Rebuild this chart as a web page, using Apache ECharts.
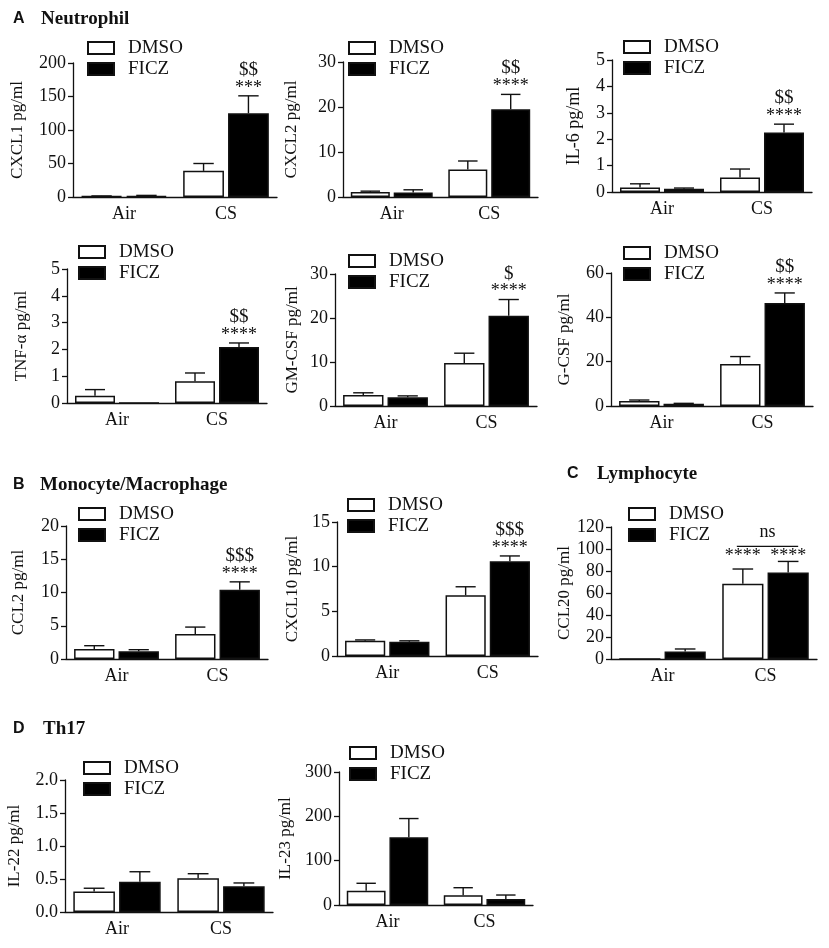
<!DOCTYPE html>
<html><head><meta charset="utf-8">
<script src="https://cdn.jsdelivr.net/npm/echarts@6/dist/echarts.min.js"></script>
<style>html,body{margin:0;padding:0;background:#fff}#c{width:829px;height:948px}</style>
</head><body><div id="c"></div>
<script>
// ---------- data ----------
const categories = ['Air', 'CS'];
const groups = ['DMSO', 'FICZ'];

// A  Neutrophil
const cxcl1Dmso = [1.2, 39],   cxcl1DmsoErr = [0.4, 11],  cxcl1Ficz = [1.8, 125],  cxcl1FiczErr = [0.6, 26];
const cxcl2Dmso = [1.1, 6.1],  cxcl2DmsoErr = [0.2, 1.9], cxcl2Ficz = [1.0, 19.5], cxcl2FiczErr = [0.6, 3.3];
const il6Dmso   = [0.17, 0.55], il6DmsoErr  = [0.14, 0.32], il6Ficz = [0.12, 2.25], il6FiczErr = [0.03, 0.32];
const tnfDmso   = [0.27, 0.81], tnfDmsoErr  = [0.23, 0.31], tnfFicz = [0, 2.09],    tnfFiczErr = [null, 0.15];
const gmcsfDmso = [2.5, 9.8],  gmcsfDmsoErr = [0.5, 2.2], gmcsfFicz = [2.0, 20.5], gmcsfFiczErr = [0.3, 3.7];
const gcsfDmso  = [2.3, 19.0], gcsfDmsoErr  = [0.4, 3.3], gcsfFicz  = [1.0, 46.5], gcsfFiczErr  = [0.2, 4.5];
// B  Monocyte/Macrophage
const ccl2Dmso   = [1.5, 3.75], ccl2DmsoErr   = [0.5, 1.05], ccl2Ficz   = [1.15, 10.4], ccl2FiczErr   = [0.25, 1.2];
const cxcl10Dmso = [1.7, 6.8],  cxcl10DmsoErr = [0.1, 0.95], cxcl10Ficz = [1.6, 10.6],  cxcl10FiczErr = [0.1, 0.6];
// C  Lymphocyte
const ccl20Dmso = [0, 68.5], ccl20DmsoErr = [null, 13.3], ccl20Ficz = [6.9, 78.7], ccl20FiczErr = [2.2, 10];
// D  Th17
const il22Dmso = [0.31, 0.51], il22DmsoErr = [0.05, 0.07], il22Ficz = [0.46, 0.39], il22FiczErr = [0.15, 0.05];
const il23Dmso = [32, 22],     il23DmsoErr = [17, 17],     il23Ficz = [153, 13.5],  il23FiczErr = [42, 9];

// significance marks above FICZ / CS  [upper, lower]
const cxcl1Sig = ['$$', '***'];
const cxcl2Sig = ['$$', '****'];
const il6Sig   = ['$$', '****'];
const tnfSig   = ['$$', '****'];
const gmcsfSig = ['$', '****'];
const gcsfSig  = ['$$', '****'];
const ccl2Sig  = ['$$$', '****'];
const cxcl10Sig = ['$$$', '****'];
const ccl20Stars = ['****', '****'];
const ccl20Between = 'ns';

// y-axis ranges
const yMax  = [200, 30, 5, 5, 30, 60, 20, 15, 120, 2, 300];
const yStep = [50, 10, 1, 1, 10, 20, 5, 5, 20, 0.5, 100];
const yNames = ['CXCL1 pg/ml', 'CXCL2 pg/ml', 'IL-6 pg/ml', 'TNF-α pg/ml', 'GM-CSF pg/ml', 'G-CSF pg/ml',
                'CCL2 pg/ml', 'CXCL10 pg/ml', 'CCL20 pg/ml', 'IL-22 pg/ml', 'IL-23 pg/ml'];

// ---------- layout ----------
const panels = [
  {d: cxcl1Dmso, de: cxcl1DmsoErr, f: cxcl1Ficz, fe: cxcl1FiczErr, sig: cxcl1Sig, box: [73, 63, 204, 134], leg: [87, 38], gap: 47, nf: 17},
  {d: cxcl2Dmso, de: cxcl2DmsoErr, f: cxcl2Ficz, fe: cxcl2FiczErr, sig: cxcl2Sig, box: [343, 62, 195, 135], leg: [348, 38], gap: 42.5, nf: 17},
  {d: il6Dmso, de: il6DmsoErr, f: il6Ficz, fe: il6FiczErr, sig: il6Sig, box: [612, 60, 200, 132], leg: [623, 37], gap: 29, nf: 18},
  {d: tnfDmso, de: tnfDmsoErr, f: tnfFicz, fe: tnfFiczErr, sig: tnfSig, box: [67, 269, 200, 134], leg: [78, 242], gap: 37, nf: 17},
  {d: gmcsfDmso, de: gmcsfDmsoErr, f: gmcsfFicz, fe: gmcsfFiczErr, sig: gmcsfSig, box: [335, 274, 202, 132], leg: [348, 251], gap: 34, nf: 17},
  {d: gcsfDmso, de: gcsfDmsoErr, f: gcsfFicz, fe: gcsfFiczErr, sig: gcsfSig, box: [611, 273, 202, 133], leg: [623, 243], gap: 37.5, nf: 17},
  {d: ccl2Dmso, de: ccl2DmsoErr, f: ccl2Ficz, fe: ccl2FiczErr, sig: ccl2Sig, box: [66, 526, 202, 133], leg: [78, 504], gap: 39, nf: 17},
  {d: cxcl10Dmso, de: cxcl10DmsoErr, f: cxcl10Ficz, fe: cxcl10FiczErr, sig: cxcl10Sig, box: [337, 522, 201, 134], leg: [347, 495], gap: 36, nf: 17},
  {d: ccl20Dmso, de: ccl20DmsoErr, f: ccl20Ficz, fe: ccl20FiczErr, stars: ccl20Stars, between: ccl20Between, box: [611, 527, 206, 132], leg: [628, 504], gap: 37, nf: 17},
  {d: il22Dmso, de: il22DmsoErr, f: il22Ficz, fe: il22FiczErr, box: [65, 780, 208, 132], leg: [83, 758], gap: 41.5, nf: 17},
  {d: il23Dmso, de: il23DmsoErr, f: il23Ficz, fe: il23FiczErr, box: [339, 772, 194, 133], leg: [349, 743], gap: 45, nf: 17}
];

const INK = '#111';
const SERIF = '"Liberation Serif", "Times New Roman", serif';
const CAT_GAP = 0.16, BAR_GAP = 0.10;

function barX(api, cat, g) {
  const band = api.size([1, 0])[0];
  const w = band * (1 - CAT_GAP) / (2 + BAR_GAP);
  const off = (w + w * BAR_GAP) / 2;
  const cx = api.coord([cat, 0])[0];
  return {x: cx + (g === 0 ? -off : off), w: w};
}

const grid = [], xAxis = [], yAxis = [], series = [], legend = [];

panels.forEach((p, i) => {
  grid.push({left: p.box[0], top: p.box[1], width: p.box[2], height: p.box[3], containLabel: false});
  xAxis.push({
    type: 'category', gridIndex: i, data: categories,
    axisLine: {lineStyle: {color: INK, width: 1.3}}, axisTick: {show: false},
    axisLabel: {color: INK, fontFamily: SERIF, fontSize: 18, margin: 8}
  });
  yAxis.push({
    type: 'value', gridIndex: i, min: 0, max: yMax[i], interval: yStep[i],
    name: yNames[i], nameLocation: 'middle', nameGap: p.gap, nameRotate: 90,
    nameTextStyle: {color: INK, fontFamily: SERIF, fontSize: p.nf},
    axisLine: {show: true, lineStyle: {color: INK, width: 1.3}},
    axisTick: {show: true, length: 5, lineStyle: {color: INK, width: 1.3}},
    splitLine: {show: false},
    axisLabel: {color: INK, fontFamily: SERIF, fontSize: 18, margin: 7,
      formatter: v => (yStep[i] < 1 ? v.toFixed(1) : String(v))}
  });
  series.push({
    name: 'DMSO', type: 'bar', xAxisIndex: i, yAxisIndex: i, data: p.d,
    barCategoryGap: (CAT_GAP * 100) + '%', barGap: (BAR_GAP * 100) + '%',
    itemStyle: {color: '#fff', borderColor: INK, borderWidth: 1.5}, silent: true
  });
  series.push({
    name: 'FICZ', type: 'bar', xAxisIndex: i, yAxisIndex: i, data: p.f,
    itemStyle: {color: '#000', borderColor: INK, borderWidth: 1.5}, silent: true
  });
  // error bars (upper only)
  const errData = [];
  [[p.d, p.de], [p.f, p.fe]].forEach((pair, g) => {
    categories.forEach((c, k) => {
      if (pair[1][k] != null) errData.push([k, g, pair[0][k], pair[1][k]]);
    });
  });
  series.push({
    type: 'custom', xAxisIndex: i, yAxisIndex: i, z: 5, silent: true,
    encode: {x: 0, y: 2},
    data: errData,
    renderItem: (params, api) => {
      const cat = api.value(0), g = api.value(1), m = api.value(2), e = api.value(3);
      const b = barX(api, cat, g);
      const y0 = api.coord([cat, m])[1];
      const y1 = api.coord([cat, m + e])[1];
      const cap = b.w * 0.5;
      const st = {stroke: INK, lineWidth: 1.4};
      return {type: 'group', children: [
        {type: 'line', shape: {x1: b.x, y1: y0, x2: b.x, y2: y1}, style: st},
        {type: 'line', shape: {x1: b.x - cap / 2, y1: y1, x2: b.x + cap / 2, y2: y1}, style: st}
      ]};
    }
  });
  // significance annotations
  if (p.sig || p.stars) {
    series.push({
      type: 'custom', xAxisIndex: i, yAxisIndex: i, z: 6, silent: true,
      encode: {x: 0, y: 1},
      data: [[1, p.f[1] + p.fe[1]]],
      renderItem: (params, api) => {
        const txt = (t, x, y, fs) => ({type: 'text', style: {text: t, x: x, y: y, align: 'center',
          verticalAlign: 'middle', fontSize: fs, fontFamily: SERIF, fill: INK}});
        if (p.sig) {
          const b = barX(api, 1, 1);
          const top = api.coord([1, p.f[1] + p.fe[1]])[1];
          return {type: 'group', children: [
            txt(p.sig[1], b.x, top - 8, 18),
            txt(p.sig[0], b.x, top - 26, 19)
          ]};
        }
        const bd = barX(api, 1, 0), bf = barX(api, 1, 1);
        const td = api.coord([1, p.d[1] + p.de[1]])[1];
        const tf = api.coord([1, p.f[1] + p.fe[1]])[1];
        const pt = Math.min(td, tf);
        return {type: 'group', children: [
          txt(p.stars[0], bd.x, pt - 5, 18),
          txt(p.stars[1], bf.x, pt - 5, 18),
          {type: 'line', shape: {x1: bd.x - 6, y1: pt - 15, x2: bf.x + 10, y2: pt - 15}, style: {stroke: INK, lineWidth: 1.3}},
          txt(p.between, (bd.x + bf.x) / 2 + 2, pt - 29, 18)
        ]};
      }
    });
  }
  legend.push({
    left: p.leg[0], top: p.leg[1], orient: 'vertical', padding: 0, itemGap: 1,
    itemWidth: 26, itemHeight: 12, icon: 'rect', selectedMode: false,
    data: groups,
    textStyle: {color: INK, fontFamily: SERIF, fontSize: 19, lineHeight: 20, padding: [0, 0, 0, 9]}
  });
});

const titles = [
  ['A', 'Neutrophil', 13, 41, 19],
  ['B', 'Monocyte/Macrophage', 13, 40, 485],
  ['C', 'Lymphocyte', 567, 597, 474],
  ['D', 'Th17', 13, 43, 729]
];
const graphic = [];
titles.forEach(t => {
  graphic.push({type: 'text', x: t[2], y: t[4], style: {text: t[0], verticalAlign: 'middle',
    font: 'bold 16px "Liberation Sans", Arial, sans-serif', fill: INK}});
  graphic.push({type: 'text', x: t[3], y: t[4], style: {text: t[1], verticalAlign: 'middle',
    font: 'bold 19px "Liberation Serif", "Times New Roman", serif', fill: INK}});
});

const chart = echarts.init(document.getElementById('c'), null, {renderer: 'canvas'});
chart.setOption({
  animation: false,
  backgroundColor: '#fff',
  grid, xAxis, yAxis, series, legend, graphic
});
</script>
</body></html>
